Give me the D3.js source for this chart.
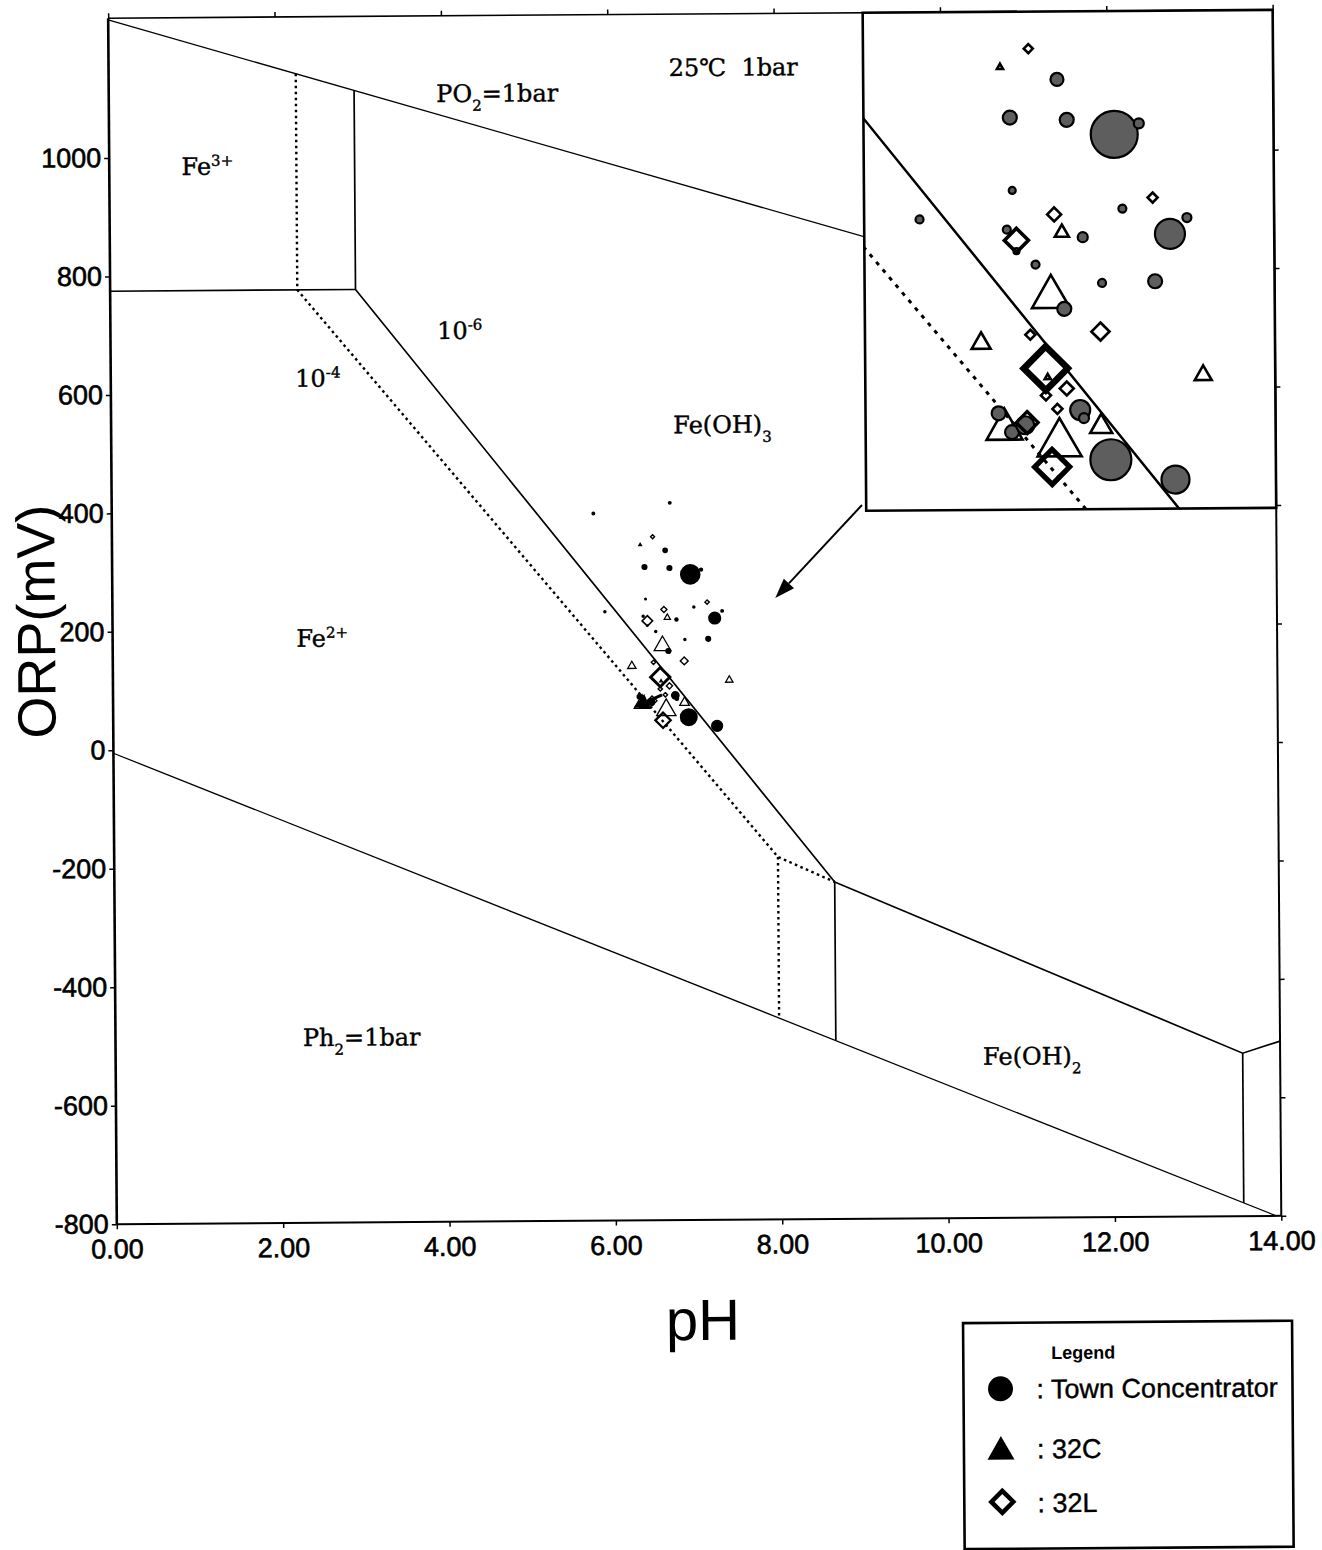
<!DOCTYPE html>
<html>
<head>
<meta charset="utf-8">
<script src="https://cdn.jsdelivr.net/npm/d3@7"></script>
<style>
  body { margin: 0; background: #fff; }
  svg { display: block; }
</style>
</head>
<body>
<svg id="chart" width="1322" height="1550"></svg>
<script>
// ---------------- DATA ----------------
// Town Concentrator (circles): pH, ORP (mV), relative marker size
const townPH   = [6.65, 6.40, 6.70, 6.95, 7.08, 6.41, 6.99, 7.33, 5.92, 6.38, 6.78, 7.24, 6.43, 6.53, 6.88, 7.16, 6.68, 6.76, 6.78, 6.33, 6.40, 6.47, 6.92, 7.26, 6.71, 5.79];
const townORP  = [331, 303, 301, 290, 298, 249, 235, 228, 228, 220, 214, 216, 204, 194, 180, 181, 161, 86, 80, 84, 70, 75, 49, 34, 411, 394];
const townSize = [6.5, 7, 7, 23.5, 5, 3.5, 4, 4.5, 4, 4, 5, 15, 3, 4, 4, 7, 7, 10, 5, 7, 7, 9, 20.5, 14, 4.5, 4.5];

// 32C (triangles)
const c32PH   = [6.35, 6.67, 6.61, 6.24, 7.41, 6.36, 6.65, 6.87, 6.59];
const c32ORP  = [341, 219, 174, 138, 113, 76, 66, 76, 111];
const c32Size = [6, 14, 38, 19, 17, 36, 44, 22, 6];

// 32L (diamonds)
const l32PH   = [6.50, 7.15, 6.63, 6.43, 6.50, 6.87, 6.58, 6.69, 6.58, 6.64, 6.61, 6.48];
const l32ORP  = [354, 243, 231, 212, 142, 144, 117, 102, 97, 87, 44, 77];
const l32Size = [4.5, 5, 7, 12, 5, 9, 22, 7, 5, 5, 17.5, 11];

// Stability-field boundaries [pH, ORP mV]
const lineO2      = [[0, 1233], [14, 654]];
const lineH2      = [[0, -5], [13.94, -800]];
const lineFe3Flat = [[0, 775], [2.95, 775]];
const lineSolid6  = [[2.95, 1111], [2.95, 775], [8.66, -231], [8.66, -499]];
const lineSolidFeOH2 = [[8.66, -231], [13.55, -525], [14, -505]];
const lineSolidRight = [[13.55, -525], [13.55, -778]];
const lineDotted4 = [[2.25, 1140], [2.25, 775], [7.98, -188], [8.66, -231]];
const lineDotted4v = [[7.98, -188], [7.98, -460]];

// Axis ticks
const xTicks = [0, 2, 4, 6, 8, 10, 12, 14];
const yTicks = [-800, -600, -400, -200, 0, 200, 400, 600, 800, 1000];

// Legend entries
const legendNames = [": Town Concentrator", ": 32C", ": 32L"];

// Region labels
const regionLabels = [
  {parts: [["25℃\u00a0\u00a01bar"]], pH: 7.51, orp: 1146},
  {parts: [["PO"], ["2", "sub"], ["=1bar"]], pH: 4.67, orp: 1105},
  {parts: [["Fe"], ["3+", "super"]], pH: 1.18, orp: 985},
  {parts: [["10"], ["-6", "super"]], pH: 4.20, orp: 705},
  {parts: [["10"], ["-4", "super"]], pH: 2.49, orp: 626},
  {parts: [["Fe(OH)"], ["3", "sub"]], pH: 7.35, orp: 543},
  {parts: [["Fe"], ["2+", "super"]], pH: 2.52, orp: 187},
  {parts: [["Ph"], ["2", "sub"], ["=1bar"]], pH: 2.96, orp: -487},
  {parts: [["Fe(OH)"], ["2", "sub"]], pH: 11.02, orp: -527}
];

// Arrows [tail, tip] in pH / mV
const arrowBig   = [[9.02, 405], [7.97, 249]];
const arrowSmall = [[6.60, 87], [6.26, 66]];

// ---------------- DRAWING ----------------
const svg = d3.select("#chart");
svg.append("rect").attr("width", 1322).attr("height", 1550).attr("fill", "#fff");
const root = svg.append("g").attr("transform", "rotate(-0.41,695,620)");

const x = d3.scaleLinear().domain([0, 14]).range([112.5, 1277]);
const y = d3.scaleLinear().domain([-800, 1236]).range([1220, 14]);

// inset (magnified view)
const xi = d3.scaleLinear().domain([5.628, 7.79]).range([867, 1277]);
const yi = d3.scaleLinear().domain([12.5, 381.4]).range([512, 14]);

const sizeMain  = d3.scaleLinear().domain([0, 1]).range([0, 1 / 2.28]);
const sizeInset = d3.scaleLinear().domain([0, 1]).range([0, 1]);

const sans = "'Liberation Sans', Arial, sans-serif";
const serif = "'DejaVu Serif', 'Liberation Serif', serif";

function drawLines(g, sx, sy, big) {
  const ln = d3.line().x(d => sx(d[0])).y(d => sy(d[1]));
  const solid = [lineO2, lineH2, lineFe3Flat, lineSolid6, lineSolidFeOH2, lineSolidRight];
  const dotted = [lineDotted4, lineDotted4v];
  g.selectAll(null).data(solid).enter().append("path")
    .attr("d", ln).attr("fill", "none").attr("stroke", "#000")
    .attr("stroke-width", (d, i) => big ? 2.5 : (i < 2 ? 1.3 : 1.7));
  g.selectAll(null).data(dotted).enter().append("path")
    .attr("d", ln).attr("fill", "none").attr("stroke", "#000")
    .attr("stroke-width", big ? 3 : 2.4)
    .attr("stroke-dasharray", big ? "4,6" : "2.6,3.4");
}

function trianglePath(cx, cy, w) {
  const h = w * 0.87;
  return `M${cx},${cy - h / 2}L${cx + w / 2},${cy + h / 2}L${cx - w / 2},${cy + h / 2}Z`;
}
function diamondPath(cx, cy, s) {
  return `M${cx},${cy - s}L${cx + s},${cy}L${cx},${cy + s}L${cx - s},${cy}Z`;
}

function drawPoints(g, sx, sy, sz, inset) {
  const tri = c32PH.map((p, i) => ({p, o: c32ORP[i], s: c32Size[i]}));
  const cir = townPH.map((p, i) => ({p, o: townORP[i], s: townSize[i]}));
  const dia = l32PH.map((p, i) => ({p, o: l32ORP[i], s: l32Size[i]}));
  g.selectAll(null).data(tri).enter().append("path")
    .attr("d", d => trianglePath(sx(d.p), sy(d.o), Math.max(sz(d.s), 2.5)))
    .attr("fill", "none").attr("stroke", "#000")
    .attr("stroke-width", inset ? 2.6 : 1.3).attr("stroke-linejoin", "miter");
  g.selectAll(null).data(cir).enter().append("circle")
    .attr("cx", d => sx(d.p)).attr("cy", d => sy(d.o))
    .attr("r", d => Math.max(sz(d.s), 1.3))
    .attr("fill", inset ? "#5e5e5e" : "#000")
    .attr("stroke", "#000").attr("stroke-width", inset ? 2.2 : 0);
  g.selectAll(null).data(dia).enter().append("path")
    .attr("d", d => diamondPath(sx(d.p), sy(d.o), Math.max(sz(d.s), 1.8)))
    .attr("fill", "none").attr("stroke", "#000")
    .attr("stroke-width", d => inset ? Math.max(2.6, sz(d.s) * 0.3) : Math.max(1.4, sz(d.s) * 0.3))
    .attr("stroke-linejoin", "miter");
}

// --- main plot boundaries
const main = root.append("g");
drawLines(main, x, y, false);

// --- region labels
regionLabels.forEach(lb => {
  const t = main.append("text")
    .attr("x", x(lb.pH)).attr("y", y(lb.orp)).attr("dy", "0.36em")
    .attr("text-anchor", "middle")
    .attr("font-family", serif).attr("font-size", 24).attr("fill", "#000")
    .attr("stroke", "#000").attr("stroke-width", 0.4);
  lb.parts.forEach(p => {
    const ts = t.append("tspan").text(p[0]);
    if (p[1]) ts.attr("baseline-shift", p[1]).attr("font-size", 15);
  });
});

// --- main points
drawPoints(main, x, y, sizeMain, false);

// --- arrows
function drawArrow(g, a, headLen, headW, shaftW) {
  const x0 = x(a[0][0]), y0 = y(a[0][1]), x1 = x(a[1][0]), y1 = y(a[1][1]);
  const ang = Math.atan2(y1 - y0, x1 - x0);
  const bx = x1 - headLen * Math.cos(ang), by = y1 - headLen * Math.sin(ang);
  g.append("line").attr("x1", x0).attr("y1", y0).attr("x2", bx).attr("y2", by)
    .attr("stroke", "#000").attr("stroke-width", shaftW);
  const px = -Math.sin(ang) * headW, py = Math.cos(ang) * headW;
  g.append("path").attr("d", `M${x1},${y1}L${bx + px},${by + py}L${bx - px},${by - py}Z`).attr("fill", "#000");
}
drawArrow(main, arrowBig, 20, 7, 2);
drawArrow(main, arrowSmall, 15, 8, 3);

// --- axes
const axisFont = g => g.selectAll("text").attr("font-family", sans).attr("font-size", 27).attr("fill", "#000")
  .attr("stroke", "#000").attr("stroke-width", 0.6);
const xAxis = main.append("g").attr("transform", `translate(0,${y(-800)})`)
  .call(d3.axisBottom(x).tickValues(xTicks).tickFormat(d3.format(".2f")).tickSize(5).tickPadding(10).tickSizeOuter(0))
  .call(axisFont);
xAxis.select(".domain").remove();
const yAxis = main.append("g").attr("transform", `translate(${x(0)},0)`)
  .call(d3.axisLeft(y).tickValues(yTicks).tickFormat(d => String(d)).tickSize(5).tickPadding(3).tickSizeOuter(0))
  .call(axisFont);
yAxis.select(".domain").remove();
const topAxis = main.append("g").attr("transform", `translate(0,${y(1236)})`)
  .call(d3.axisTop(x).tickValues(xTicks).tickFormat("").tickSize(5).tickSizeOuter(0));
topAxis.select(".domain").remove();
const rightAxis = main.append("g").attr("transform", `translate(${x(14)},0)`)
  .call(d3.axisRight(y).tickValues(yTicks).tickFormat("").tickSize(5).tickSizeOuter(0));
rightAxis.select(".domain").remove();
main.selectAll(".tick line").attr("stroke", "#000").attr("stroke-width", 1.5);

// frame
const fx0 = x(0), fx1 = x(14), fy0 = y(1236), fy1 = y(-800);
main.append("line").attr("x1", fx0).attr("x2", fx0).attr("y1", fy0).attr("y2", fy1).attr("stroke", "#000").attr("stroke-width", 2.6);
main.append("line").attr("x1", fx0).attr("x2", fx1).attr("y1", fy1).attr("y2", fy1).attr("stroke", "#000").attr("stroke-width", 2);
main.append("line").attr("x1", fx0).attr("x2", fx1).attr("y1", fy0).attr("y2", fy0).attr("stroke", "#000").attr("stroke-width", 1.6);
main.append("line").attr("x1", fx1).attr("x2", fx1).attr("y1", fy0).attr("y2", fy1).attr("stroke", "#000").attr("stroke-width", 2);

// axis titles
main.append("text").attr("transform", `translate(55,617) rotate(-90)`)
  .attr("text-anchor", "middle").attr("font-family", sans).attr("font-size", 54).text("ORP(mV)");
main.append("text").attr("x", 698).attr("y", 1340)
  .attr("text-anchor", "middle").attr("font-family", sans).attr("font-size", 58).text("pH");

// --- inset
const ix0 = xi.range()[0], ix1 = xi.range()[1], iy0 = yi.range()[1], iy1 = yi.range()[0];
svg.append("defs").append("clipPath").attr("id", "insetClip")
  .append("rect").attr("x", ix0).attr("y", iy0).attr("width", ix1 - ix0).attr("height", iy1 - iy0);
const inset = root.append("g");
inset.append("rect").attr("x", ix0).attr("y", iy0).attr("width", ix1 - ix0).attr("height", iy1 - iy0).attr("fill", "#fff");
const insetInner = inset.append("g").attr("clip-path", "url(#insetClip)");
drawLines(insetInner, xi, yi, true);
drawPoints(insetInner, xi, yi, sizeInset, true);
inset.append("rect").attr("x", ix0).attr("y", iy0).attr("width", ix1 - ix0).attr("height", iy1 - iy0)
  .attr("fill", "none").attr("stroke", "#000").attr("stroke-width", 2.6);

// --- legend
const lg = root.append("g");
lg.append("rect").attr("x", 958).attr("y", 1325).attr("width", 329).attr("height", 226)
  .attr("fill", "#fff").attr("stroke", "#000").attr("stroke-width", 2.6);
lg.append("text").attr("x", 1078).attr("y", 1355).attr("dy", "0.36em").attr("text-anchor", "middle")
  .attr("font-family", sans).attr("font-weight", "bold").attr("font-size", 18).text("Legend");
const legRowY = [1391, 1451, 1505];
lg.append("circle").attr("cx", 995).attr("cy", legRowY[0]).attr("r", 12.5).attr("fill", "#000");
lg.append("path").attr("d", trianglePath(995, legRowY[1] - 1, 27)).attr("fill", "#000");
lg.append("path").attr("d", diamondPath(996, legRowY[2] - 1, 11)).attr("fill", "#fff").attr("stroke", "#000").attr("stroke-width", 4.5);
lg.selectAll(null).data(legendNames).enter().append("text")
  .attr("x", 1031).attr("y", (d, i) => legRowY[i]).attr("dy", "0.36em")
  .attr("font-family", sans).attr("font-size", 27)
  .attr("stroke", "#000").attr("stroke-width", 0.4).text(d => d);
</script>
</body>
</html>
